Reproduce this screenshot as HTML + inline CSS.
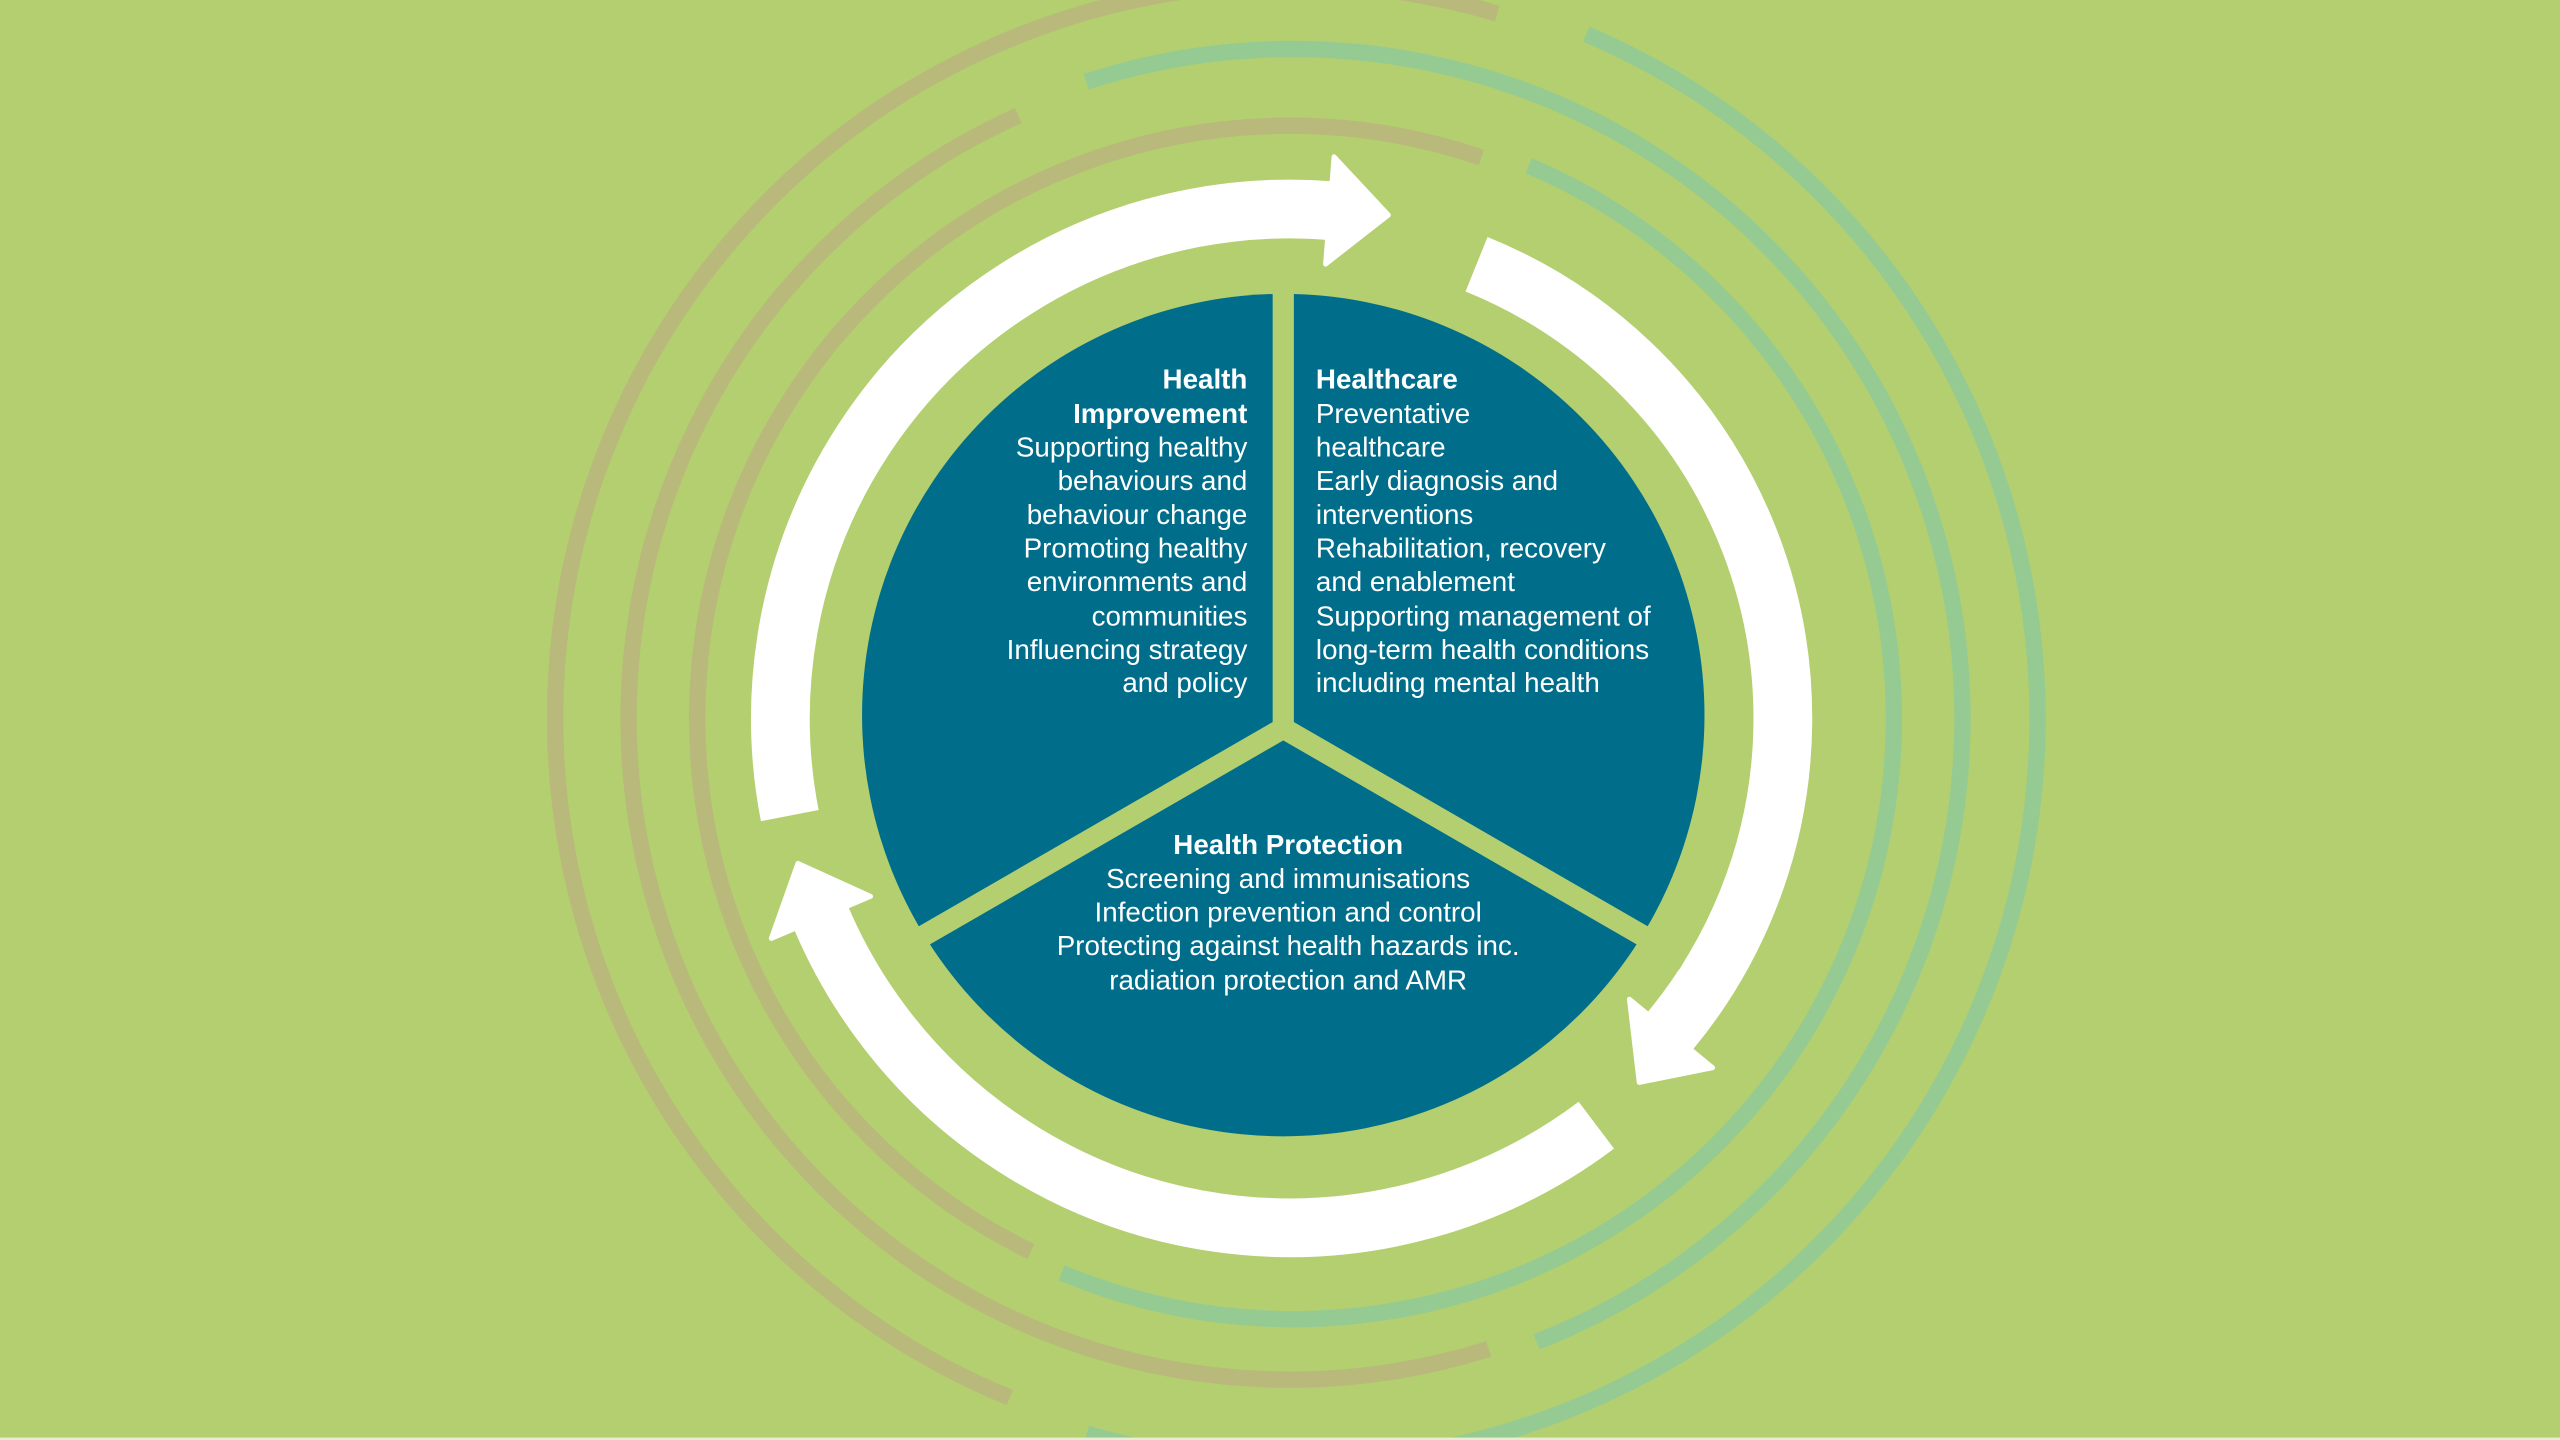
<!DOCTYPE html>
<html><head><meta charset="utf-8"><style>
html,body{margin:0;padding:0;background:#b3cf6f;width:2560px;height:1440px;overflow:hidden;}
svg{display:block;}
text{font-family:"Liberation Sans",Arial,sans-serif;font-size:17px;fill:#fff;}
.b{font-weight:bold;}
.e{text-anchor:end;}
.m{text-anchor:middle;}
</style></head><body>
<svg width="2560" height="1440" viewBox="0 0 1568 882" xmlns="http://www.w3.org/2000/svg">
<rect width="1568" height="882" fill="#b3cf6f"/>
<g fill="none" stroke-width="10">
<circle cx="790" cy="440" r="450" stroke="#b8b97a" pathLength="360" stroke-dasharray="174 400" transform="rotate(112.4 790 440)"/>
<circle cx="790" cy="440" r="405" stroke="#b8b97a" pathLength="360" stroke-dasharray="173.3 400" transform="rotate(72.5 790 440)"/>
<circle cx="790" cy="440" r="363" stroke="#b8b97a" pathLength="360" stroke-dasharray="173 400" transform="rotate(115.9 790 440)"/>
<circle cx="792" cy="440" r="368" stroke="#95cb92" pathLength="360" stroke-dasharray="179.6 400" transform="rotate(293.1 792 440)"/>
<circle cx="792" cy="440" r="410" stroke="#95cb92" pathLength="360" stroke-dasharray="176.7 400" transform="rotate(252 792 440)"/>
<circle cx="792" cy="440" r="456" stroke="#95cb92" pathLength="360" stroke-dasharray="172.9 400" transform="rotate(293.2 792 440)"/>
</g>
<g fill="none" stroke="#fff" stroke-width="36">
<circle cx="790" cy="440" r="312" pathLength="360" stroke-dasharray="105.5 400" transform="rotate(169 790 440)"/>
<circle cx="792" cy="440" r="300" pathLength="360" stroke-dasharray="107.6 400" transform="rotate(292 792 440)"/>
<circle cx="790" cy="440" r="312" pathLength="360" stroke-dasharray="104 400" transform="rotate(53 790 440)"/>
</g>
<g fill="#fff" stroke="#fff" stroke-width="3" stroke-linejoin="round">
<polygon points="811.9,161.8 817.1,96 850.4,131.7"/>
<polygon points="998,612 1049,654 1004,663"/>
<polygon points="533.2,549 472.4,574.8 488.7,528.8"/>
</g>
<circle cx="786" cy="438" r="258" fill="#006e8b"/>
<g stroke="#b3cf6f" stroke-width="13" stroke-linecap="butt">
<line x1="786" y1="446" x2="786" y2="170"/>
<line x1="786" y1="446" x2="540" y2="588"/>
<line x1="786" y1="446" x2="1032" y2="588"/>
</g>
<text class="e b" x="764" y="238">Health</text>
<text class="e b" x="764" y="259">Improvement</text>
<text class="e" x="764" y="279.5">Supporting healthy</text>
<text class="e" x="764" y="300">behaviours and</text>
<text class="e" x="764" y="321">behaviour change</text>
<text class="e" x="764" y="341.5">Promoting healthy</text>
<text class="e" x="764" y="362">environments and</text>
<text class="e" x="764" y="383">communities</text>
<text class="e" x="764" y="403.5">Influencing strategy</text>
<text class="e" x="764" y="424">and policy</text>
<text class="b" x="806" y="238">Healthcare</text>
<text x="806" y="259">Preventative</text>
<text x="806" y="279.5">healthcare</text>
<text x="806" y="300">Early diagnosis and</text>
<text x="806" y="321">interventions</text>
<text x="806" y="341.5">Rehabilitation, recovery</text>
<text x="806" y="362">and enablement</text>
<text x="806" y="383">Supporting management of</text>
<text x="806" y="403.5">long-term health conditions</text>
<text x="806" y="424">including mental health</text>
<text class="m b" x="789" y="523">Health Protection</text>
<text class="m" x="789" y="544">Screening and immunisations</text>
<text class="m" x="789" y="564.5">Infection prevention and control</text>
<text class="m" x="789" y="585">Protecting against health hazards inc.</text>
<text class="m" x="789" y="606">radiation protection and AMR</text>
<rect x="0" y="880.5" width="1568" height="1.5" fill="#e6efd2"/>
</svg>
</body></html>
